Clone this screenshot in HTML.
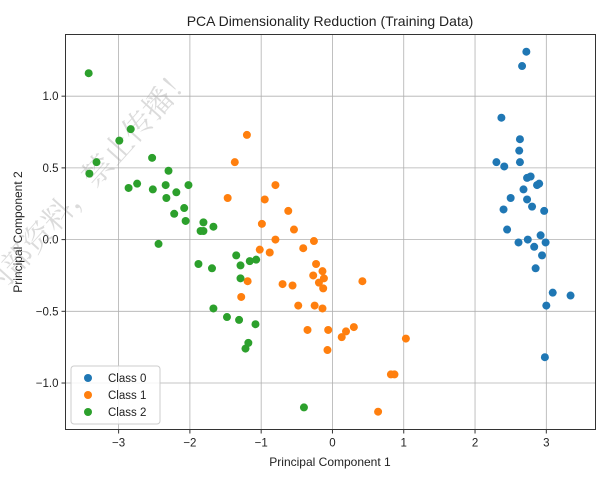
<!DOCTYPE html>
<html><head><meta charset="utf-8"><style>
html,body{margin:0;padding:0;background:#fff;}
svg{display:block;font-family:"Liberation Sans","DejaVu Sans","Noto Sans CJK SC",sans-serif;}
</style></head><body>
<svg id="chart" width="606" height="490" viewBox="0 0 606 490">
<text x="330" y="26" font-size="14" text-anchor="middle" fill="#222">PCA Dimensionality Reduction (Training Data)</text>
<text x="330" y="466" font-size="12" text-anchor="middle" fill="#222">Principal Component 1</text>
<text x="0" y="0" font-size="12" text-anchor="middle" fill="#222" transform="translate(22,232) rotate(-90)">Principal Component 2</text>
<g id="grid"></g>
<g id="ticks"></g>
<text x="0" y="0" font-size="30" fill="#999" opacity="0.35" font-family="'Noto Serif CJK SC','Noto Sans CJK SC',serif" transform="translate(-5,300) rotate(-48)">内部资料，禁止传播！</text>
<g id="points"></g>
<rect x="65.5" y="34.5" width="530" height="395" fill="none" stroke="#333" stroke-width="1"/>
<g>
<rect x="71" y="366" width="89" height="58" rx="3" fill="#fff" fill-opacity="0.85" stroke="#ccc"/>
<circle cx="88" cy="378" r="4" fill="#1f77b4"/>
<text x="108" y="382" font-size="11.5" fill="#222">Class 0</text>
<circle cx="88" cy="395" r="4" fill="#ff7f0e"/>
<text x="108" y="399" font-size="11.5" fill="#222">Class 1</text>
<circle cx="88" cy="412" r="4" fill="#2ca02c"/>
<text x="108" y="416" font-size="11.5" fill="#222">Class 2</text>
</g>
</svg>
<script>
const xTicks=[-3,-2,-1,0,1,2,3];
const yTicks=[-1.0,-0.5,0.0,0.5,1.0];
const xTickLabels=["−3","−2","−1","0","1","2","3"];
const yTickLabels=["−1.0","−0.5","0.0","0.5","1.0"];
const class0X=[2.72,2.66,2.37,2.63,2.62,2.63,2.30,2.41,2.73,2.78,2.87,2.90,2.68,2.50,2.73,2.80,2.40,2.97,2.45,2.74,2.61,2.92,2.99,2.83,2.94,2.85,3.09,3.34,3.00,2.98];
const class0Y=[1.31,1.21,0.85,0.70,0.62,0.54,0.54,0.51,0.43,0.44,0.38,0.39,0.35,0.29,0.28,0.23,0.21,0.20,0.07,0.00,-0.02,0.03,-0.02,-0.05,-0.11,-0.20,-0.37,-0.39,-0.46,-0.82];
const class1X=[-1.20,-1.37,-1.47,-0.80,-0.95,-0.62,-0.99,-0.54,-0.80,-0.26,-1.02,-0.88,-0.41,-0.23,-0.14,-0.27,-0.12,-0.19,-0.13,-1.19,-0.70,-0.56,0.42,-1.28,-0.48,-0.25,-0.14,-0.35,-0.06,0.19,0.13,0.30,1.03,-0.07,0.82,0.87,0.64];
const class1Y=[0.73,0.54,0.29,0.38,0.28,0.20,0.11,0.07,0.00,-0.01,-0.07,-0.09,-0.06,-0.17,-0.22,-0.25,-0.27,-0.30,-0.34,-0.29,-0.31,-0.32,-0.29,-0.40,-0.46,-0.46,-0.48,-0.63,-0.63,-0.64,-0.68,-0.61,-0.69,-0.77,-0.94,-0.94,-1.20];
const class2X=[-3.42,-2.83,-2.99,-3.31,-3.41,-2.53,-2.30,-2.86,-2.74,-2.52,-2.34,-2.33,-2.19,-2.02,-2.08,-2.22,-2.06,-1.81,-1.85,-1.81,-1.67,-2.44,-1.88,-1.69,-1.35,-1.29,-1.16,-1.07,-1.29,-1.67,-1.48,-1.31,-1.08,-1.18,-1.22,-0.40];
const class2Y=[1.16,0.77,0.69,0.54,0.46,0.57,0.48,0.36,0.39,0.35,0.38,0.29,0.33,0.38,0.22,0.18,0.13,0.12,0.06,0.06,0.09,-0.03,-0.17,-0.20,-0.11,-0.18,-0.15,-0.14,-0.27,-0.48,-0.54,-0.56,-0.59,-0.72,-0.76,-1.17];

const NS="http://www.w3.org/2000/svg";
const L=65.5,R=595.5,T=34.5,B=429.5;
const xMin=-3.745,xMax=3.69,yMin=-1.324,yMax=1.43;
function sx(v){return L+(v-xMin)/(xMax-xMin)*(R-L);}
function sy(v){return B-(v-yMin)/(yMax-yMin)*(B-T);}
function mk(tag,attrs,parent){const e=document.createElementNS(NS,tag);for(const k in attrs)e.setAttribute(k,attrs[k]);parent.appendChild(e);return e;}
const grid=document.getElementById('grid'),ticks=document.getElementById('ticks'),pts=document.getElementById('points');
xTicks.forEach((v,i)=>{
  const x=sx(v);
  const g=mk('line',{x1:x,x2:x,y1:T,y2:B,stroke:'#b0b0b0','stroke-width':0.8},grid);
  
  
  const t=mk('line',{x1:x,x2:x,y1:B,y2:B+4,stroke:'#333'},ticks);
  
  
  const lb=mk('text',{x:x,y:B+17,'font-size':11.5,'text-anchor':'middle',fill:'#222'},ticks);
  lb.textContent=xTickLabels[i];
  
  
});
yTicks.forEach((v,i)=>{
  const y=sy(v);
  const g=mk('line',{x1:L,x2:R,y1:y,y2:y,stroke:'#b0b0b0','stroke-width':0.8},grid);
  
  
  const t=mk('line',{x1:L-4,x2:L,y1:y,y2:y,stroke:'#333'},ticks);
  
  
  const lb=mk('text',{x:L-7,y:y+4,'font-size':11.5,'text-anchor':'end',fill:'#222'},ticks);
  lb.textContent=yTickLabels[i];
  
  
});
const series=[[class0X,class0Y,'#1f77b4','class-0'],[class1X,class1Y,'#ff7f0e','class-1'],[class2X,class2Y,'#2ca02c','class-2']];
series.forEach(s=>{
  s[0].forEach((xv,i)=>{
    const c=mk('circle',{cx:sx(xv),cy:sy(s[1][i]),r:4,fill:s[2]},pts);
    
    
  });
});
</script>
</body></html>
